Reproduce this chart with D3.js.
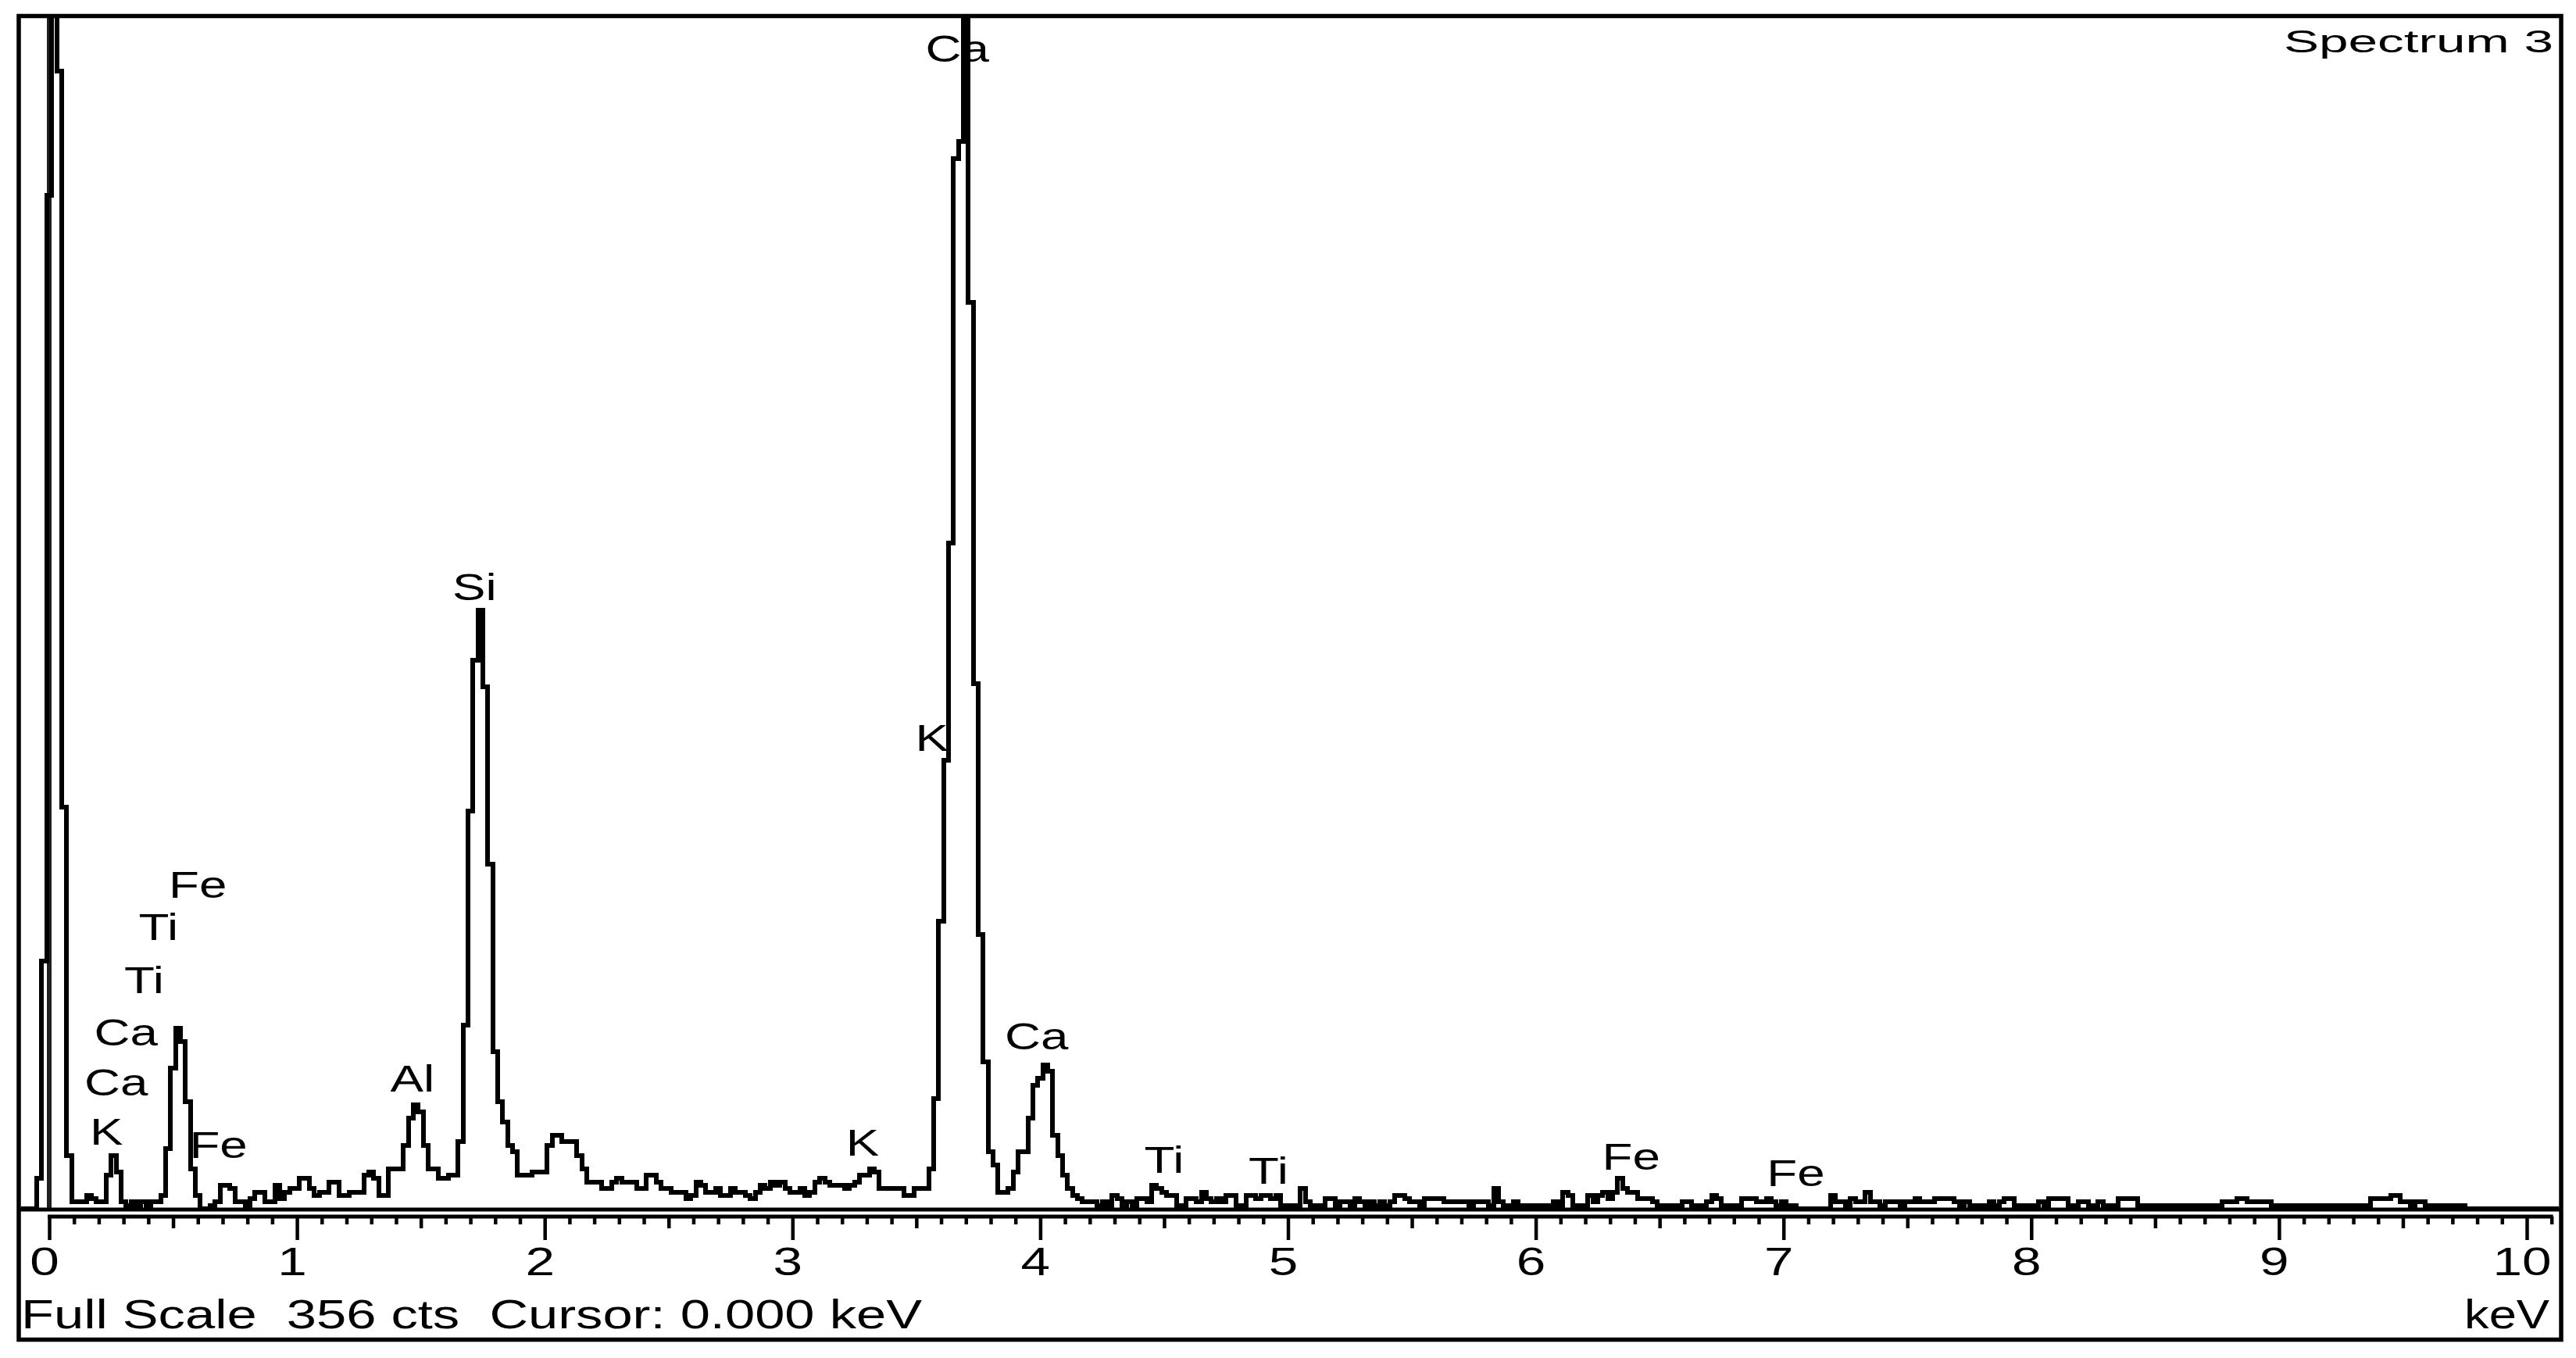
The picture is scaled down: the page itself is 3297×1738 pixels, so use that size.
<!DOCTYPE html>
<html>
<head>
<meta charset="utf-8">
<script src="https://cdn.jsdelivr.net/npm/d3@7"></script>
<style>
  html, body { margin: 0; padding: 0; background: #fff; }
  svg { display: block; }
  text { font-family: "Liberation Sans", Arial, sans-serif; fill: #000; }
</style>
</head>
<body>
<svg id="chart"></svg>
<script>
// EDS spectrum, 0.02 keV channels, counts
const binWidth = 0.02;
const fullScale = 356;

const countsBelowZero = [9, 74]; // -0.04, -0.02 keV
const counts0 = [303, 420, 340, 120, 16, 2, 2, 2, 4, 3, 2, 2, 10, 16, 11, 2, 1, 2, 1, 2,
  1, 2, 2, 4, 18, 42, 54, 50, 32, 12, 4, 0, 0, 1, 2, 7, 7, 6, 2, 2,
  1, 3, 5, 5, 2, 2, 7, 3, 5, 6];
const counts1 = [6, 9, 9, 6, 4, 5, 5, 8, 8, 4, 4, 5, 5, 5, 10, 11, 9, 4, 4, 12,
  12, 12, 19, 27, 31, 29, 19, 12, 12, 9, 9, 10, 10, 20, 55, 119, 164, 179, 156, 103,
  47, 32, 26, 19, 17, 10, 10, 10, 11, 11];
const counts2 = [11, 19, 22, 22, 20, 20, 20, 16, 12, 8, 8, 8, 6, 6, 8, 9, 8, 8, 8, 6,
  6, 10, 10, 8, 6, 6, 5, 5, 5, 3, 4, 8, 7, 5, 5, 6, 4, 4, 6, 5,
  5, 4, 3, 5, 7, 6, 8, 7, 8, 6];
const counts3 = [5, 5, 6, 4, 5, 8, 9, 8, 7, 7, 7, 6, 7, 8, 10, 10, 12, 11, 6, 6,
  6, 6, 6, 4, 4, 6, 6, 6, 12, 33, 86, 134, 199, 314, 319, 372, 271, 157, 82, 44,
  17, 13, 5, 5, 6, 11, 17, 17, 27, 37];
const counts4 = [39, 43, 41, 22, 16, 10, 6, 4, 3, 2, 2, 2, 1, 2, 1, 4, 3, 1, 2, 1,
  3, 3, 2, 7, 6, 5, 4, 4, 1, 1, 3, 3, 2, 5, 3, 2, 3, 2, 4, 4,
  1, 1, 4, 4, 3, 4, 4, 3, 4, 1];
const counts5 = [1, 1, 1, 6, 2, 1, 1, 1, 3, 3, 1, 2, 2, 1, 3, 2, 1, 2, 1, 2,
  1, 2, 4, 4, 3, 2, 2, 1, 3, 3, 3, 3, 2, 2, 2, 2, 2, 1, 2, 2,
  2, 1, 6, 2, 1, 1, 2, 1, 1, 1];
const counts6 = [1, 1, 1, 1, 2, 1, 5, 4, 1, 1, 1, 4, 2, 4, 5, 3, 5, 9, 6, 5,
  5, 3, 3, 3, 2, 1, 1, 1, 1, 1, 2, 2, 1, 1, 1, 2, 4, 3, 1, 1,
  1, 1, 3, 3, 3, 2, 2, 3, 2, 1];
const counts7 = [2, 1, 1, 0, 0, 0, 0, 0, 0, 0, 4, 2, 2, 1, 3, 2, 2, 5, 2, 2,
  1, 2, 2, 2, 1, 2, 2, 3, 2, 2, 2, 3, 3, 3, 3, 2, 1, 2, 1, 1,
  1, 1, 2, 1, 2, 3, 3, 1, 1, 1];
const counts8 = [1, 1, 2, 1, 3, 3, 3, 3, 1, 1, 2, 2, 1, 1, 2, 1, 1, 1, 3, 3,
  3, 3, 1, 1, 1, 1, 1, 1, 1, 1, 1, 1, 1, 1, 1, 1, 1, 1, 1, 2,
  2, 2, 3, 3, 2, 2, 2, 2, 2, 1];
const counts9 = [1, 1, 1, 1, 1, 1, 1, 1, 1, 1, 1, 1, 1, 1, 1, 1, 1, 1, 1, 3,
  3, 3, 3, 4, 4, 2, 2, 1, 2, 2, 1, 1, 1, 1, 1, 1, 1, 1];

const majorTicks = [0, 1, 2, 3, 4, 5, 6, 7, 8, 9, 10];
const tickLabels = ['0', '1', '2', '3', '4', '5', '6', '7', '8', '9', '10'];

const peakNames = ['Ca', 'Si', 'K', 'Ca', 'K', 'Ti', 'Ti', 'Fe', 'Fe',
  'Fe', 'Ti', 'Ti', 'Ca', 'Ca', 'K', 'Fe', 'Al'];
const peakKeV = [3.665, 1.717, 3.563, 3.985, 3.283, 4.50, 4.921, 6.385, 7.05,
  0.60, 0.441, 0.383, 0.31, 0.27, 0.231, 0.683, 1.466];
const peakLevel = [343, 182, 137, 47.7, 15.9, 10.7, 7.5, 11.7, 6.8,
  93, 80.4, 64.5, 48.8, 33.9, 19.2, 15.2, 35];

const W = 3297, H = 1738;
const svg = d3.select('#chart').attr('width', W).attr('height', H);
svg.append('rect').attr('width', W).attr('height', H).attr('fill', '#fff');

const frame = {left: 24, top: 20.5, right: 3278, bottom: 1714.5};
const plotTop = 23, plotBottom = 1547;

const xScale = d3.scaleLinear().domain([0, 10]).range([63, 3234]);
const yScale = d3.scaleLinear().domain([0, fullScale]).range([plotBottom, plotTop]);

const stretch = (sel, k) => sel.each(function () {
  const w = this.getComputedTextLength();
  d3.select(this).attr('textLength', w * k).attr('lengthAdjust', 'spacingAndGlyphs');
});

svg.append('clipPath').attr('id', 'plotClip')
  .append('rect')
  .attr('x', frame.left + 3).attr('y', plotTop)
  .attr('width', frame.right - frame.left - 6).attr('height', plotBottom - plotTop + 4);

const plot = svg.append('g').attr('clip-path', 'url(#plotClip)');

// cursor at 0.000 keV
plot.append('line')
  .attr('x1', xScale(0)).attr('x2', xScale(0))
  .attr('y1', yScale(fullScale)).attr('y2', yScale(0))
  .attr('stroke', '#202020').attr('stroke-width', 6);

const bands = [
  [-0.04, countsBelowZero], [0, counts0], [1, counts1], [2, counts2], [3, counts3],
  [4, counts4], [5, counts5], [6, counts6], [7, counts7], [8, counts8], [9, counts9]
];
const bins = [];
bands.forEach(([start, arr]) => arr.forEach((c, i) => bins.push({e: start + i * binWidth, c: c})));

const last = bins[bins.length - 1];
const pts = [{e: xScale.invert(frame.left), c: 0}]
  .concat(bins.map(b => ({e: b.e - binWidth / 2, c: b.c})))
  .concat([{e: last.e + binWidth / 2, c: 0}, {e: xScale.invert(frame.right), c: 0}]);

const line = d3.line()
  .x(d => xScale(d.e))
  .y(d => yScale(d.c))
  .curve(d3.curveStepAfter);

plot.append('path')
  .datum(pts)
  .attr('d', line)
  .attr('fill', 'none')
  .attr('stroke', '#000')
  .attr('stroke-width', 6)
  .attr('stroke-linejoin', 'miter')
  .attr('shape-rendering', 'crispEdges');

// peak labels
svg.append('g').selectAll('text')
  .data(peakNames.map((n, i) => ({n: n, e: peakKeV[i], c: peakLevel[i]})))
  .join('text')
  .attr('x', d => xScale(d.e))
  .attr('y', d => yScale(d.c))
  .attr('text-anchor', 'middle')
  .attr('font-size', 49)
  .text(d => d.n)
  .call(stretch, 1.3);

// plot bottom line
svg.append('line')
  .attr('x1', frame.left).attr('x2', frame.right)
  .attr('y1', plotBottom + 1).attr('y2', plotBottom + 1)
  .attr('stroke', '#000').attr('stroke-width', 5);

// energy axis
const axisY = 1557;
const axisG = svg.append('g').attr('transform', `translate(0,${axisY})`);
const minorTicks = d3.range(0, 102).map(i => i / 10).filter(v => Math.round(v * 10) % 5 !== 0);
const midTicks = d3.range(0, 10).map(i => i + 0.5);

axisG.append('line')
  .attr('x1', xScale(0) - 2).attr('x2', xScale(10.1) + 2)
  .attr('stroke', '#000').attr('stroke-width', 5);

[[minorTicks, 10], [midTicks, 15], [majorTicks, 30]].forEach(([vals, len]) => {
  const ax = d3.axisBottom(xScale).tickValues(vals).tickSize(len).tickFormat('');
  const g = axisG.append('g').call(ax);
  g.select('.domain').remove();
  g.selectAll('line').attr('stroke', '#000').attr('stroke-width', 4.5);
});

axisG.append('g').selectAll('text')
  .data(majorTicks)
  .join('text')
  .attr('x', d => xScale(d) - 6)
  .attr('y', 75)
  .attr('text-anchor', 'middle')
  .attr('font-size', 50)
  .text((d, i) => tickLabels[i])
  .call(stretch, 1.35);

// status texts
svg.append('text')
  .attr('x', 27).attr('y', 1700)
  .attr('font-size', 52)
  .style('white-space', 'pre')
  .attr('textLength', 1153).attr('lengthAdjust', 'spacingAndGlyphs')
  .text('Full Scale  356 cts  Cursor: 0.000 keV');

svg.append('text')
  .attr('x', 3263).attr('y', 1700)
  .attr('font-size', 52)
  .attr('text-anchor', 'end')
  .attr('textLength', 109).attr('lengthAdjust', 'spacingAndGlyphs')
  .text('keV');

svg.append('text')
  .attr('x', 2923).attr('y', 67)
  .attr('font-size', 40)
  .attr('textLength', 345).attr('lengthAdjust', 'spacingAndGlyphs')
  .text('Spectrum 3');

// outer frame
svg.append('rect')
  .attr('x', frame.left).attr('y', frame.top)
  .attr('width', frame.right - frame.left).attr('height', frame.bottom - frame.top)
  .attr('fill', 'none').attr('stroke', '#000').attr('stroke-width', 5.5);
</script>
</body>
</html>
